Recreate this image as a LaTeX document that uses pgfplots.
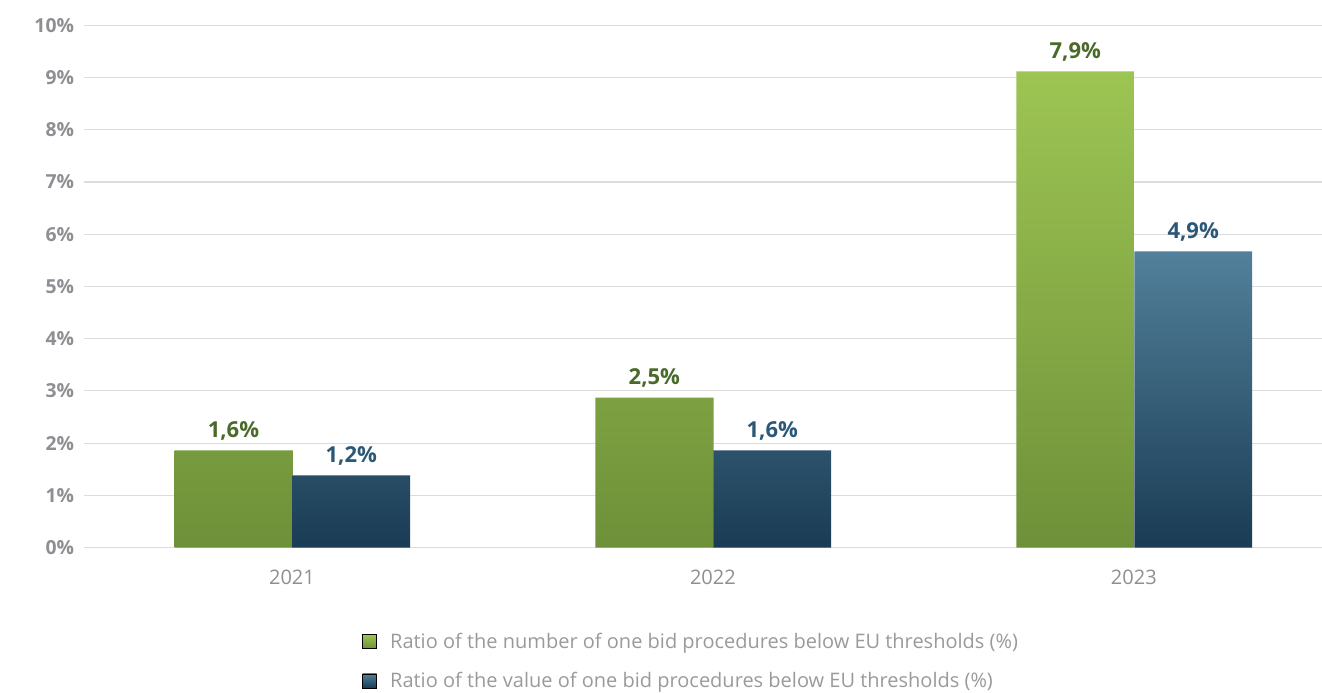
\documentclass[border=0pt]{standalone}
\usepackage{fontspec}
\setmainfont{Open Sans}
\usepackage{pgfplots}
\pgfplotsset{compat=1.18}

\definecolor{gtop}{HTML}{9DC553}
\definecolor{gbot}{HTML}{6E9039}
\definecolor{btop}{HTML}{52809A}
\definecolor{bbot}{HTML}{1A3C54}
\definecolor{glab}{HTML}{4A6A2A}
\definecolor{blab}{HTML}{2C5878}
\definecolor{tickgray}{HTML}{8E8E93}
\definecolor{leggray}{HTML}{9A9A9A}
\definecolor{gridgray}{HTML}{DCDCDC}

\begin{document}
\begin{tikzpicture}
\useasboundingbox (0,0) rectangle (991.5pt,519.75pt);
\begin{axis}[
  at={(63pt,109.1pt)}, anchor=south west,
  scale only axis,
  width=928.5pt, height=391.6pt,
  xmin=-0.494, xmax=2.447,
  ymin=0, ymax=10,
  axis line style={draw=none},
  major tick length=0pt,
  ymajorgrids,
  grid style={draw=gridgray, line width=0.9pt},
  xtick={0,1,2},
  xticklabels={2021,2022,2023},
  ytick={0,1,...,10},
  yticklabel={\pgfmathprintnumber{\tick}\%},
  /pgf/number format/assume math mode=true,
  yticklabel style={font=\fontsize{14.5}{16}\selectfont\bfseries, text=tickgray},
  xticklabel style={font=\fontsize{15}{16}\selectfont, text=tickgray},
  ytick style={draw=none}, xtick style={draw=none},
  every y tick label/.append style={xshift=-4pt},
  every x tick label/.append style={yshift=-13pt},
  legend style={at={(0.2246,-0.158)}, anchor=north west, draw=none, fill=none,
    font=\fontsize{15}{17}\selectfont, text=leggray, row sep=12.5pt,
    inner sep=0pt},
  legend cell align=left,
]
\addlegendimage{legend image code/.code={\fill[top color=gtop, bottom color=gbot] (0pt,-5.25pt) rectangle (10.5pt,5.25pt); \path (18.5pt,0pt);}}
\addlegendentry{Ratio of the number of one bid procedures below EU thresholds (\%)}
\addlegendimage{legend image code/.code={\fill[top color=btop, bottom color=bbot] (0pt,-5.25pt) rectangle (10.5pt,5.25pt); \path (18.5pt,0pt);}}
\addlegendentry{Ratio of the value of one bid procedures below EU thresholds (\%)}

\addplot[ybar, bar width=0.281, bar shift=-0.1385, draw=none,
  top color=gtop, bottom color=gbot,
  point meta=explicit,
  nodes near coords={\pgfmathprintnumber[fixed,fixed zerofill,precision=1,use comma]{\pgfplotspointmeta}\%},
  every node near coord/.append style={font=\fontsize{16.5}{18}\selectfont\bfseries, text=glab, yshift=4pt, xshift=-43.9pt}]
  coordinates {(0,1.86) [1.6] (1,2.87) [2.5] (2,9.12) [7.9]};
\addplot[ybar, bar width=0.28, bar shift=0.141, draw=none,
  top color=btop, bottom color=bbot,
  point meta=explicit,
  nodes near coords={\pgfmathprintnumber[fixed,fixed zerofill,precision=1,use comma]{\pgfplotspointmeta}\%},
  every node near coord/.append style={font=\fontsize{16.5}{18}\selectfont\bfseries, text=blab, yshift=4pt, xshift=44.5pt}]
  coordinates {(0,1.38) [1.2] (1,1.86) [1.6] (2,5.67) [4.9]};
\end{axis}
\end{tikzpicture}
\end{document}
